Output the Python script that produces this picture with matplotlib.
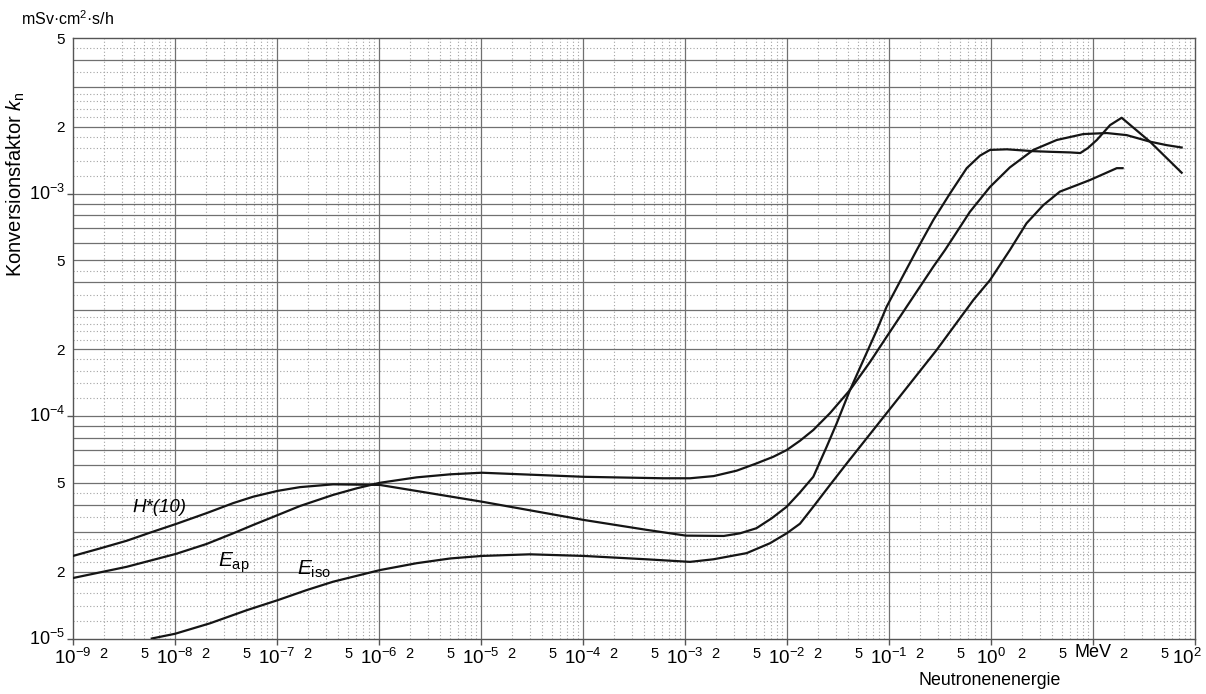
import numpy as np
import matplotlib.pyplot as plt
from matplotlib.transforms import ScaledTranslation

plt.rcParams['font.family'] = 'Liberation Sans'
plt.rcParams['mathtext.fontset'] = 'custom'
plt.rcParams['mathtext.rm'] = 'Liberation Sans'
plt.rcParams['mathtext.it'] = 'Liberation Sans:italic'
plt.rcParams['mathtext.default'] = 'regular'

# neutron energy in MeV, conversion factor in mSv cm^2 s/h
h10_e = [1.0e-9, 1.84e-9, 3.36e-9, 5.69e-9, 1.02e-8, 2.04e-8, 3.72e-8, 5.86e-8, 1.02e-7,
         1.68e-7, 3.55e-7, 1.02e-6, 3.16e-6, 1.02e-5, 1.02e-4, 4.17e-4, 1.02e-3, 2.40e-3,
         3.47e-3, 5.01e-3, 7.08e-3, 9.93e-3, 1.32e-2, 1.81e-2, 2.45e-2, 3.07e-2, 4.15e-2,
         7.59e-2, 9.48e-2, 0.128, 0.187, 0.272, 0.396, 0.578, 0.780, 0.977, 1.43, 2.60,
         3.78, 5.96, 7.5, 8.9, 10.9, 14.7, 19.1, 36.2, 74.0]
h10_k = [2.35e-5, 2.54e-5, 2.75e-5, 2.99e-5, 3.27e-5, 3.66e-5, 4.06e-5, 4.34e-5, 4.61e-5,
         4.79e-5, 4.93e-5, 4.90e-5, 4.50e-5, 4.12e-5, 3.41e-5, 3.08e-5, 2.90e-5, 2.89e-5,
         2.97e-5, 3.13e-5, 3.47e-5, 3.91e-5, 4.50e-5, 5.33e-5, 7.28e-5, 9.27e-5, 1.31e-4,
         2.43e-4, 3.10e-4, 4.02e-4, 5.57e-4, 7.60e-4, 1.00e-3, 1.30e-3, 1.48e-3, 1.57e-3,
         1.58e-3, 1.55e-3, 1.54e-3, 1.53e-3, 1.52e-3, 1.60e-3, 1.74e-3, 2.03e-3, 2.19e-3,
         1.71e-3, 1.24e-3]

eap_e = [1.0e-9, 3.36e-9, 1.02e-8, 2.04e-8, 3.72e-8, 5.86e-8, 1.02e-7, 1.68e-7, 3.55e-7,
         6.03e-7, 1.02e-6, 2.34e-6, 5.01e-6, 1.02e-5, 1.02e-4, 6.12e-4, 1.12e-3, 1.91e-3,
         3.21e-3, 5.01e-3, 7.35e-3, 9.93e-3, 1.34e-2, 1.81e-2, 2.64e-2, 4.15e-2, 6.52e-2,
         9.48e-2, 0.272, 0.354, 0.622, 0.977, 1.53, 2.60, 4.41, 8.04, 13.6, 21.4, 36.2,
         52.7, 74.0]
eap_k = [1.87e-5, 2.10e-5, 2.40e-5, 2.66e-5, 2.97e-5, 3.24e-5, 3.59e-5, 3.94e-5, 4.42e-5,
         4.73e-5, 5.01e-5, 5.30e-5, 5.47e-5, 5.56e-5, 5.33e-5, 5.25e-5, 5.25e-5, 5.37e-5,
         5.68e-5, 6.12e-5, 6.56e-5, 7.03e-5, 7.74e-5, 8.65e-5, 1.03e-4, 1.31e-4, 1.75e-4,
         2.27e-4, 4.69e-4, 5.57e-4, 8.28e-4, 1.07e-3, 1.31e-3, 1.57e-3, 1.74e-3, 1.85e-3,
         1.87e-3, 1.83e-3, 1.71e-3, 1.65e-3, 1.61e-3]

eiso_e = [5.92e-9, 1.0e-8, 2.2e-8, 5.05e-8, 1.03e-7, 1.95e-7, 3.55e-7, 1.02e-6,
          2.34e-6, 5.01e-6, 1.02e-5, 3.02e-5, 1.02e-4, 4.17e-4, 1.12e-3, 1.90e-3, 4.03e-3,
          6.81e-3, 9.93e-3, 1.34e-2, 1.81e-2, 2.64e-2, 3.85e-2, 9.48e-2, 0.293, 0.671, 0.977,
          1.53, 2.23, 3.26, 4.74, 6.92, 9.35, 17.1, 19.5]
eiso_k = [1.0e-5, 1.05e-5, 1.17e-5, 1.34e-5, 1.49e-5, 1.65e-5, 1.80e-5, 2.03e-5,
          2.18e-5, 2.29e-5, 2.35e-5, 2.39e-5, 2.35e-5, 2.27e-5, 2.21e-5, 2.27e-5, 2.42e-5,
          2.68e-5, 2.97e-5, 3.28e-5, 3.91e-5, 4.90e-5, 6.12e-5, 1.03e-4, 1.98e-4, 3.32e-4,
          4.08e-4, 5.57e-4, 7.35e-4, 8.87e-4, 1.02e-3, 1.09e-3, 1.15e-3, 1.30e-3, 1.30e-3]

x_decades = [1e-9, 1e-8, 1e-7, 1e-6, 1e-5, 1e-4, 1e-3, 1e-2, 1e-1, 1e0, 1e1, 1e2]
x_decade_labels = ['$10^{-9}$', '$10^{-8}$', '$10^{-7}$', '$10^{-6}$', '$10^{-5}$', '$10^{-4}$',
                   '$10^{-3}$', '$10^{-2}$', '$10^{-1}$', '$10^{0}$', 'MeV', '$10^{2}$']
y_decades = [1e-5, 1e-4, 1e-3]
y_decade_labels = ['$10^{-5}$', '$10^{-4}$', '$10^{-3}$']
sub_marks = [2, 5]

solid_steps = [1, 2, 3, 4, 5, 6, 7, 8, 9]
dotted_steps = [1.2, 1.4, 1.6, 1.8, 2.2, 2.4, 2.6, 2.8, 3.5, 4.5]
xdot_steps = [2, 3, 4, 5, 6, 7, 8, 9]

xmin, xmax = 1e-9, 1e2
ymin, ymax = 1e-5, 5e-3

fig = plt.figure(figsize=(12.06, 6.94), dpi=100)
ax = fig.add_axes([73 / 1206, 55.5 / 694, 1122 / 1206, 600.5 / 694])
ax.set_xscale('log')
ax.set_yscale('log')
ax.set_xlim(xmin, xmax)
ax.set_ylim(ymin, ymax)

# grid paper
solid_c = '#707070'
dot_c = '#a4a4a4'
for d in y_decades:
    for m in solid_steps:
        if ymin < m * d < ymax:
            ax.axhline(m * d, color=solid_c, lw=0.9, zorder=1)
    for m in dotted_steps:
        if m * d < ymax:
            ax.axhline(m * d, color=dot_c, lw=0.8, ls=(0, (1, 2)), zorder=0.5)
for d in x_decades[:-1]:
    if d > xmin:
        ax.axvline(d, color=solid_c, lw=0.9, zorder=1)
    for m in xdot_steps:
        ax.axvline(m * d, color=dot_c, lw=0.8, ls=(0, (1, 2)), zorder=0.5)

ax.plot(h10_e, h10_k, color='#151515', lw=1.6, zorder=3)
ax.plot(eap_e, eap_k, color='#151515', lw=1.6, zorder=3)
ax.plot(eiso_e, eiso_k, color='#151515', lw=1.6, zorder=3)

for s in ax.spines.values():
    s.set_color('#555555')
    s.set_linewidth(1.0)

# ticks
x_minor = [m * d for d in x_decades[:-1] for m in sub_marks]
y_minor = [m * d for d in y_decades for m in sub_marks if m * d <= ymax]
ax.set_xticks(x_decades, x_decade_labels)
ax.set_xticks(x_minor, [str(m) for d in x_decades[:-1] for m in sub_marks], minor=True)
ax.set_yticks(y_decades, y_decade_labels)
ax.set_yticks(y_minor, [str(m) for d in y_decades for m in sub_marks if m * d <= ymax], minor=True)

ax.tick_params(axis='x', which='major', length=4.5, width=1, color='#555555', pad=2.5, labelsize=13.5)
ax.tick_params(axis='x', which='minor', length=0, pad=6.0, labelsize=10.5)
ax.tick_params(axis='y', which='major', length=4.5, width=1, color='#555555', pad=1.5, labelsize=13)
ax.tick_params(axis='y', which='minor', length=0, pad=6.0, labelsize=11)

xlabs = ax.get_xticklabels()
for lab in xlabs:
    if lab.get_text() == 'MeV':
        lab.set_fontsize(13)
        lab.set_transform(lab.get_transform() + ScaledTranslation(0, 3 / 72, fig.dpi_scale_trans))
xlabs[-1].set_transform(xlabs[-1].get_transform() + ScaledTranslation(-0.08, 0, fig.dpi_scale_trans))
for lab in ax.get_yticklabels():
    lab.set_va('center')

# curve labels
ax.text(3.85e-9, 3.72e-5, 'H*(10)', fontsize=13.5, style='italic', ha='left', va='baseline', zorder=4)
ax.text(2.64e-8, 2.10e-5, '$\\mathit{E}_{ap}$', fontsize=15, ha='left', va='baseline', zorder=4)
ax.text(1.57e-7, 1.93e-5, '$\\mathit{E}_{iso}$', fontsize=15, ha='left', va='baseline', zorder=4)

fig.text(21 / 1206, (694 - 25) / 694, 'mSv·$cm^{2}$·s/h', fontsize=11.5, ha='left', va='baseline')
fig.text(16 / 1206, (694 - 184) / 694, 'Konversionsfaktor $\\mathit{k}_{n}$', fontsize=14.5,
         rotation=90, ha='center', va='center')
fig.text(990 / 1206, (694 - 685) / 694, 'Neutronenenergie', fontsize=12.8, ha='center', va='baseline')

fig.savefig('out.png', dpi=100)
